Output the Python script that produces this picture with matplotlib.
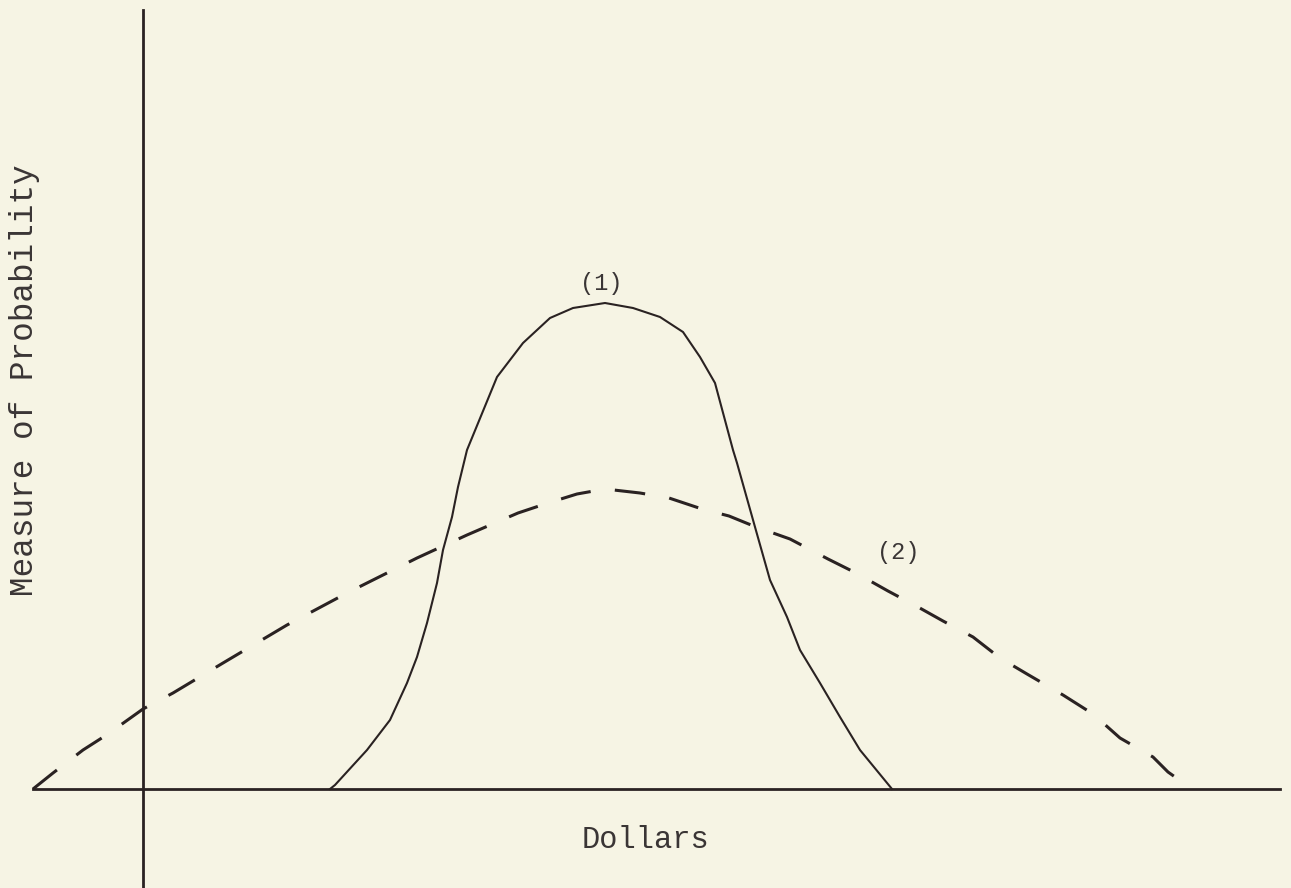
import numpy as np
import matplotlib.pyplot as plt

# Curve (1): narrow distribution (arbitrary units)
dollars_1 = [18.7, 19.2, 22.4, 24.7, 26.4, 27.4, 28.4, 29.4, 30.0, 30.9, 31.5, 32.4,
             35.4, 38.0, 40.7, 43.0, 46.2, 49.0, 51.7, 54.0, 55.7, 57.2, 59.0, 59.4,
             61.2, 62.7, 64.4, 65.7, 67.7, 69.7, 71.7, 74.9]
prob_1 = [0.0, 0.4, 3.9, 6.9, 10.6, 13.2, 16.6, 20.6, 23.9, 27.2, 30.2, 33.9,
          41.2, 44.6, 47.1, 48.1, 48.6, 48.1, 47.2, 45.7, 43.2, 40.6, 33.9, 32.6,
          26.2, 20.9, 17.2, 13.9, 10.6, 7.2, 3.9, 0.0]

# Curve (2): wide distribution (dashed)
dollars_2 = [-11.0, -9.0, -6.0, -3.5, 0.0, 3.0, 8.0, 14.4, 20.4, 27.4, 32.4, 37.5,
             40.5, 43.4, 46.2, 49.7, 52.6, 55.9, 58.6, 61.3, 64.7, 68.5, 71.3, 74.5,
             77.5, 80.0, 83.0, 85.7, 88.4, 92.0, 95.0, 97.7, 101.0, 102.5, 104.9]
prob_2 = [0.0, 1.6, 3.9, 5.5, 8.0, 9.6, 12.6, 16.4, 19.6, 23.1, 25.4, 27.6,
          28.6, 29.5, 30.0, 29.6, 29.1, 28.0, 27.3, 26.2, 25.0, 23.0, 21.6, 19.8,
          18.2, 16.8, 15.2, 13.1, 11.5, 9.4, 7.5, 5.1, 3.2, 1.7, 0.0]

bg = '#f6f4e4'
ink = '#2a2222'
txt = '#3a3535'

fig = plt.figure(figsize=(12.91, 8.88), dpi=100, facecolor=bg)
ax = fig.add_axes([0, 0, 1, 1], facecolor=bg)

ax.plot(dollars_1, prob_1, color=ink, lw=1.5)
ax.plot(dollars_2, prob_2, color=ink, lw=2.2, dashes=(10, 8))

ax.set_xlim(-14.3, 114.8)
ax.set_ylim(-9.9, 78.9)

# axes drawn as crossing lines, like the hand sketch
for s in ['top', 'right']:
    ax.spines[s].set_visible(False)
ax.spines['left'].set_position(('data', 0))
ax.spines['bottom'].set_position(('data', 0))
ax.spines['left'].set_bounds(-9.9, 77.9)
ax.spines['bottom'].set_bounds(-11.0, 113.7)
for s in ['left', 'bottom']:
    ax.spines[s].set_color(ink)
    ax.spines[s].set_linewidth(2.0)
ax.set_xticks([])
ax.set_yticks([])

mono = 'Liberation Mono'
ax.text(45.8, 50.6, '(1)', family=mono, fontsize=17, color=txt, ha='center', va='center')
ax.text(75.5, 23.7, '(2)', family=mono, fontsize=17, color=txt, ha='center', va='center')
ax.text(50.3, -5.1, 'Dollars', family=mono, fontsize=22, color=txt, ha='center', va='center')
fig.text(25 / 1291, 1 - 380 / 888, 'Measure of Probability', family=mono, fontsize=23.5,
         color=txt, rotation=90, ha='center', va='center')

fig.savefig('out.png', dpi=100, facecolor=bg)
